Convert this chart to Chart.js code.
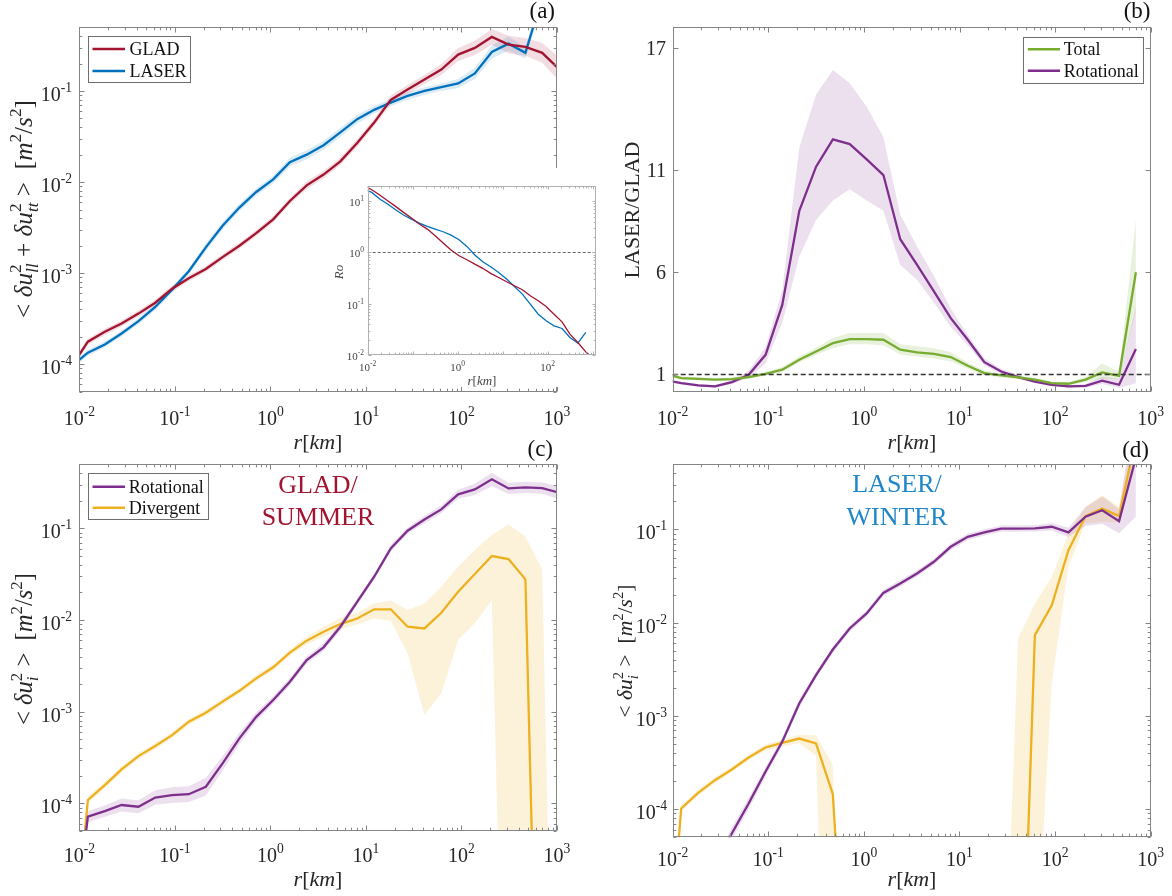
<!DOCTYPE html>
<html><head><meta charset="utf-8">
<script src="https://cdn.jsdelivr.net/npm/chart.js@4.4.1/dist/chart.umd.min.js"></script>
<style>
html,body{margin:0;padding:0;background:#fff;}
#wrap{position:relative;width:1172px;height:896px;overflow:hidden;background:#fff;}
canvas{position:absolute;left:0;top:0;}
</style></head><body><div id="wrap"></div>
<script>
// ---------------- DATA ----------------
const r_km = [0.0082, 0.0123, 0.0185, 0.0277, 0.0416, 0.0624, 0.0936, 0.140, 0.211, 0.316, 0.474, 0.711, 1.07, 1.60, 2.40, 3.60, 5.40, 8.10, 12.2, 18.2, 27.3, 41.0, 61.5, 92.3, 138, 208, 311, 467, 700, 1050];

// (a) structure functions
const a_glad = [9.3e-5, 1.77e-4, 2.27e-4, 2.80e-4, 3.6e-4, 4.74e-4, 6.75e-4, 8.8e-4, 1.11e-3, 1.50e-3, 2.0e-3, 2.75e-3, 3.9e-3, 6.2e-3, 9.2e-3, 1.21e-2, 1.69e-2, 2.69e-2, 4.5e-2, 7.98e-2, 0.104, 0.134, 0.172, 0.251, 0.297, 0.392, 0.323, 0.305, 0.262, 0.174];
const a_glad_spread = [1.08,1.08,1.08,1.08,1.08,1.08,1.08,1.08,1.08,1.08,1.08,1.08,1.08,1.08,1.1,1.1,1.1,1.1,1.1,1.12,1.12,1.12,1.15,1.18,1.2,1.22,1.25,1.25,1.28,1.35];
const a_laser = [9.4e-5, 1.34e-4, 1.65e-4, 2.18e-4, 2.97e-4, 4.26e-4, 6.6e-4, 1.05e-3, 1.92e-3, 3.31e-3, 5.25e-3, 7.78e-3, 1.07e-2, 1.65e-2, 2.0e-2, 2.54e-2, 3.51e-2, 4.91e-2, 6.21e-2, 7.46e-2, 8.82e-2, 0.100, 0.110, 0.121, 0.156, 0.268, 0.331, 0.262, 1.07, null];
const a_laser_spread = [1.08,1.08,1.08,1.08,1.08,1.08,1.08,1.08,1.1,1.1,1.1,1.1,1.1,1.12,1.12,1.12,1.12,1.12,1.1,1.1,1.1,1.1,1.1,1.12,1.15,1.18,1.2,1.15,1.2,null];

// inset Rossby number
const ins_glad = [20, 16.7, 13.2, 10.2, 7.9, 6.04, 4.68, 3.57, 2.85, 2.11, 1.52, 1.11, 0.86, 0.72, 0.59, 0.49, 0.39, 0.325, 0.268, 0.224, 0.187, 0.143, 0.114, 0.0883, 0.0625, 0.0443, 0.0255, 0.0175, 0.0115, 0.0083];
const ins_laser = [17.2, 14.8, 11.0, 8.78, 6.8, 5.36, 4.47, 3.74, 3.22, 2.85, 2.53, 2.18, 1.77, 1.31, 0.89, 0.66, 0.525, 0.407, 0.302, 0.217, 0.154, 0.098, 0.0625, 0.0464, 0.0371, 0.0329, 0.0219, 0.017, 0.0275, null];

// (b) ratios LASER/GLAD
const b_total = [1.0, 0.79, 0.75, 0.71, 0.74, 0.84, 1.0, 1.2, 1.69, 2.09, 2.5, 2.7, 2.7, 2.67, 2.18, 2.05, 1.98, 1.82, 1.39, 1.03, 0.92, 0.82, 0.71, 0.54, 0.51, 0.71, 1.07, 0.9, 5.98, null];
const b_total_hi = [1.1, 0.88, 0.83, 0.79, 0.82, 0.93, 1.1, 1.33, 1.85, 2.28, 2.75, 3.0, 3.0, 3.0, 2.45, 2.35, 2.25, 2.05, 1.55, 1.15, 1.02, 0.9, 0.78, 0.6, 0.58, 0.85, 1.5, 1.1, 8.55, null];
const b_total_lo = [0.9, 0.72, 0.68, 0.64, 0.67, 0.76, 0.9, 1.08, 1.55, 1.92, 2.27, 2.45, 2.45, 2.4, 1.95, 1.85, 1.75, 1.6, 1.25, 0.92, 0.82, 0.74, 0.64, 0.48, 0.45, 0.6, 0.75, 0.75, 4.1, null];
const b_rot = [0.69, 0.54, 0.43, 0.38, 0.59, 0.95, 1.93, 4.38, 9.0, 11.16, 12.5, 12.27, 11.52, 10.75, 7.6, 6.34, 5.04, 3.73, 2.67, 1.57, 1.11, 0.84, 0.62, 0.46, 0.38, 0.41, 0.66, 0.46, 2.21, null];
const b_rot_hi = [0.75, 0.6, 0.5, 0.45, 0.7, 1.15, 2.3, 5.1, 12.1, 14.7, 15.9, 15.25, 14.1, 12.6, 8.8, 7.24, 5.8, 4.2, 2.9, 1.75, 1.25, 0.95, 0.7, 0.55, 0.45, 0.5, 0.85, 0.75, 4.3, null];
const b_rot_lo = [0.63, 0.48, 0.38, 0.33, 0.5, 0.8, 1.5, 3.5, 6.75, 8.55, 9.5, 10.05, 9.5, 9.0, 6.34, 5.6, 4.5, 3.3, 2.4, 1.4, 1.0, 0.75, 0.55, 0.4, 0.33, 0.33, 0.5, 0.3, 0.54, null];
const b_y_ticks = [1, 6, 11, 17];

// (c) GLAD / summer decomposition
const c_rot = [2.3e-6, 7.16e-5, 8.25e-5, 9.6e-5, 9.2e-5, 1.16e-4, 1.23e-4, 1.26e-4, 1.52e-4, 2.73e-4, 5.12e-4, 8.8e-4, 1.34e-3, 2.12e-3, 3.66e-3, 5.04e-3, 8.46e-3, 1.58e-2, 2.97e-2, 6.05e-2, 9.44e-2, 0.125, 0.161, 0.235, 0.266, 0.343, 0.273, 0.28, 0.275, 0.245];
const c_rot_spread = [1.1, 1.15, 1.15, 1.18, 1.18, 1.2, 1.22, 1.22, 1.25, 1.2, 1.15, 1.12, 1.1, 1.1, 1.1, 1.1, 1.1, 1.08, 1.08, 1.08, 1.08, 1.1, 1.1, 1.12, 1.15, 1.18, 1.15, 1.15, 1.15, 1.18];
const c_div = [1.2e-6, 1.09e-4, 1.58e-4, 2.35e-4, 3.28e-4, 4.22e-4, 5.56e-4, 7.78e-4, 9.75e-4, 1.29e-3, 1.69e-3, 2.31e-3, 3.05e-3, 4.41e-3, 5.96e-3, 7.47e-3, 9.04e-3, 1.04e-2, 1.31e-2, 1.31e-2, 8.46e-3, 8.1e-3, 1.2e-2, 2.04e-2, 3.18e-2, 4.99e-2, 4.63e-2, 2.78e-2, 1.4e-9, null];
const c_div_hi = [1.2e-6, 1.2e-4, 1.72e-4, 2.55e-4, 3.55e-4, 4.55e-4, 6.0e-4, 8.4e-4, 1.05e-3, 1.39e-3, 1.82e-3, 2.5e-3, 3.3e-3, 4.8e-3, 6.6e-3, 8.4e-3, 1.05e-2, 1.2e-2, 1.52e-2, 1.63e-2, 1.29e-2, 1.52e-2, 2.31e-2, 3.82e-2, 5.81e-2, 8.46e-2, 0.111, 8.1e-2, 3.57e-2, 1e-10];
const c_div_lo = [1.2e-6, 1.0e-4, 1.46e-4, 2.17e-4, 3.03e-4, 3.9e-4, 5.15e-4, 7.2e-4, 9.0e-4, 1.19e-3, 1.57e-3, 2.14e-3, 2.82e-3, 4.05e-3, 5.4e-3, 6.6e-3, 7.9e-3, 9.0e-3, 1.04e-2, 9.8e-3, 4.33e-3, 9.2e-4, 1.58e-3, 6.05e-3, 9.2e-3, 1.63e-2, 1e-9, 1e-10, 1e-10, 1e-10];

// (d) LASER / winter decomposition
const d_rot = [1e-6, 5.9e-6, 1.26e-5, 2.6e-5, 5.49e-5, 1.15e-4, 2.52e-4, 5.28e-4, 1.36e-3, 2.74e-3, 5.16e-3, 8.68e-3, 1.26e-2, 2.09e-2, 2.64e-2, 3.38e-2, 4.5e-2, 6.52e-2, 8.34e-2, 9.29e-2, 0.102, 0.102, 0.103, 0.107, 9.29e-2, 0.137, 0.161, 0.123, 0.59, null];
const d_rot_spread = [1.1, 1.1, 1.1, 1.1, 1.15, 1.15, 1.12, 1.1, 1.1, 1.08, 1.08, 1.08, 1.08, 1.08, 1.08, 1.08, 1.08, 1.08, 1.08, 1.08, 1.08, 1.08, 1.08, 1.1, 1.12, 1.26, 1.4, 1.35, 4.3, null];
const d_div = [5.5e-7, 1.02e-4, 1.5e-4, 2.05e-4, 2.67e-4, 3.59e-4, 4.59e-4, 5.15e-4, 5.73e-4, 5.07e-4, 1.45e-4, 1.7e-7, 1e-9, 1e-9, 1e-9, 1e-9, 1e-9, 1e-9, 1e-9, 1e-9, 1e-9, 3.3e-8, 7.36e-3, 1.54e-2, 6.0e-2, 0.139, 0.168, 0.139, 0.96, null];
const d_div_hi = [5.5e-7, 1.1e-4, 1.62e-4, 2.2e-4, 2.85e-4, 3.85e-4, 4.95e-4, 5.6e-4, 6.3e-4, 6.2e-4, 2.96e-4, 3.5e-9, 1e-10, 1e-10, 1e-10, 1e-10, 1e-10, 1e-10, 1e-10, 1e-10, 6e-8, 6.78e-3, 1.61e-2, 3.1e-2, 9.06e-2, 0.175, 0.233, 0.175, 1.5, null];
const d_div_lo = [5.5e-7, 9.5e-5, 1.4e-4, 1.9e-4, 2.5e-4, 3.35e-4, 4.25e-4, 4.7e-4, 5.1e-4, 3.8e-4, 1e-9, 1e-12, 1e-12, 1e-12, 1e-12, 1e-12, 1e-12, 1e-12, 1e-12, 1e-12, 1e-12, 1e-12, 1.35e-6, 2.23e-3, 3.98e-2, 0.116, 0.121, 0.118, 0.6, null];

// tick label exponents
const x_exps = [-2, -1, 0, 1, 2, 3];
const y_exps = [-4, -3, -2, -1];
const ins_x_exps = [-2, 0, 2];
const ins_y_exps = [-2, -1, 0, 1];

// ---------------- STYLE ----------------
const W = 1172, H = 896;
const SERIF = '"Liberation Serif", "Times New Roman", serif';
const C_GLAD = '#A2142F', C_LASER = '#0072BD', C_TOT = '#77AC30', C_ROT = '#7E2F8E', C_DIV = '#EDB120';
const AX = '#858585', TXT = '#262626';

function pts(arr){ return r_km.map((x,i)=>({x:x, y:(arr[i]===undefined?null:arr[i])})); }
function mul(a,s){ return a.map((v,i)=> (v==null||s[i]==null)?null:v*s[i]); }
function div(a,s){ return a.map((v,i)=> (v==null||s[i]==null)?null:v/s[i]); }
function line(arr,color,w){ return {data:pts(arr), borderColor:color, borderWidth:w||2.3, pointRadius:0, fill:false, tension:0, order:0, spanGaps:false}; }
function band(hi,lo,color){ return [
  {data:pts(hi), borderWidth:0, borderColor:'rgba(0,0,0,0)', pointRadius:0, backgroundColor:color, fill:'+1', tension:0, order:5},
  {data:pts(lo), borderWidth:0, borderColor:'rgba(0,0,0,0)', pointRadius:0, backgroundColor:color, fill:false, tension:0, order:5}
];}
function font(s,it){ return (it?'italic ':'')+s+'px '+SERIF; }

function logTicks(min,max){
  const out=[];
  for(let d=Math.floor(Math.log10(min))-1; d<=Math.ceil(Math.log10(max)); d++){
    for(let m=1;m<=9;m++){ const v=m*Math.pow(10,d); if(v>=min*0.9999 && v<=max*1.0001) out.push({v:v, major:m===1}); }
  }
  return out;
}
function drawPow(ctx, exp, x, y, size, align, color){
  const es = size*0.68;
  ctx.font = font(size); const w1 = ctx.measureText('10').width;
  ctx.font = font(es); const w2 = ctx.measureText(String(exp)).width;
  const tot = w1+w2;
  let left = align==='center' ? x - tot/2 : (align==='right' ? x - tot : x);
  ctx.fillStyle = color; ctx.textAlign='left'; ctx.textBaseline='alphabetic';
  ctx.font = font(size); ctx.fillText('10', left, y);
  ctx.font = font(es); ctx.fillText(String(exp), left+w1, y - size*0.45);
}
// rich text: runs {t, it, sup, sub, st:{sup,sub}}
function runWidth(ctx, run, size){
  if(run.st){ ctx.font=font(size*0.68, true); return Math.max(ctx.measureText(run.st.sup).width, ctx.measureText(run.st.sub).width); }
  const s = (run.sup||run.sub)? size*0.68 : size;
  ctx.font = font(s, run.it); return ctx.measureText(run.t).width;
}
function richWidth(ctx, runs, size){ return runs.reduce((a,r)=>a+runWidth(ctx,r,size),0); }
function drawRich(ctx, runs, x, y, size, align, color){
  const tot = richWidth(ctx, runs, size);
  let cx = align==='center' ? x - tot/2 : (align==='right' ? x - tot : x);
  ctx.fillStyle = color; ctx.textAlign='left'; ctx.textBaseline='alphabetic';
  for(const r of runs){
    const w = runWidth(ctx, r, size);
    if(r.st){
      ctx.font = font(size*0.68, false); ctx.fillText(r.st.sup, cx, y - size*0.42);
      ctx.font = font(size*0.68, true); ctx.fillText(r.st.sub, cx, y + size*0.24);
    } else if(r.sup){ ctx.font = font(size*0.68, r.it); ctx.fillText(r.t, cx, y - size*0.42); }
    else if(r.sub){ ctx.font = font(size*0.68, r.it); ctx.fillText(r.t, cx, y + size*0.24); }
    else { ctx.font = font(size, r.it); ctx.fillText(r.t, cx, y); }
    cx += w;
  }
}
function drawRotRich(ctx, runs, cx, cy, target, color){
  const w = richWidth(ctx, runs, 22);
  const size = 22*target/w;
  ctx.save(); ctx.translate(cx, cy); ctx.rotate(-Math.PI/2);
  drawRich(ctx, runs, 0, size*0.3, size, 'center', color);
  ctx.restore();
}
const RKM = [{t:'r',it:true},{t:'['},{t:'km',it:true},{t:']'}];

function drawFrame(ctx, chart, o){
  const ca = chart.chartArea, xs = chart.scales.x, ys = chart.scales.y;
  const L=Math.round(ca.left)+0.5, R=Math.round(ca.right)-0.5, T=Math.round(ca.top)+0.5, B=Math.round(ca.bottom)-0.5;
  ctx.save();
  ctx.strokeStyle = o.axColor||AX; ctx.lineWidth = 1;
  ctx.strokeRect(L, T, R-L, B-T);
  const MJ = o.major||5, MN = o.minor||2.8;
  ctx.beginPath();
  for(const t of logTicks(xs.min, xs.max)){
    const p = Math.round(xs.getPixelForValue(t.v))+0.5, len = t.major?MJ:MN;
    ctx.moveTo(p,B); ctx.lineTo(p,B-len); ctx.moveTo(p,T); ctx.lineTo(p,T+len);
  }
  const yt = o.linY ? o.linY.map(v=>({v:v,major:true})) : logTicks(ys.min, ys.max);
  for(const t of yt){
    const p = Math.round(ys.getPixelForValue(t.v))+0.5, len = t.major?MJ:MN;
    ctx.moveTo(L,p); ctx.lineTo(L+len,p); ctx.moveTo(R,p); ctx.lineTo(R-len,p);
  }
  ctx.stroke();
  ctx.restore();
}
function drawLegend(ctx, box, items){
  ctx.save();
  ctx.fillStyle='#fff'; ctx.fillRect(box.x, box.y, box.w, box.h);
  ctx.strokeStyle='#6e6e6e'; ctx.lineWidth=1; ctx.strokeRect(Math.round(box.x)+0.5, Math.round(box.y)+0.5, Math.round(box.w), Math.round(box.h));
  for(const it of items){
    ctx.strokeStyle=it.c; ctx.lineWidth=2.5; ctx.beginPath(); ctx.moveTo(box.lx0, it.y); ctx.lineTo(box.lx1, it.y); ctx.stroke();
    ctx.fillStyle='#111'; ctx.font=font(18); ctx.textAlign='left'; ctx.textBaseline='alphabetic';
    ctx.fillText(it.t, box.tx, it.y+6);
  }
  ctx.restore();
}

function makeChart(geom, datasets, yScale, drawFn, beforeFn){
  const cv = document.createElement('canvas'); cv.width=W; cv.height=H;
  cv.style.width=W+'px'; cv.style.height=H+'px';
  document.getElementById('wrap').appendChild(cv);
  return new Chart(cv.getContext('2d'), {
    type:'line',
    data:{datasets:datasets},
    options:{
      responsive:false, animation:false, devicePixelRatio:1,
      layout:{padding:{left:geom.l, top:geom.t, right:W-geom.r, bottom:H-geom.b}},
      plugins:{legend:{display:false}, tooltip:{enabled:false}, title:{display:false}},
      scales:{
        x:{type:'logarithmic', display:false, bounds:'data', min:geom.xmin, max:geom.xmax},
        y:Object.assign({display:false, bounds:'data'}, yScale)
      },
      elements:{line:{capBezierPoints:false}}
    },
    plugins:[{id:'deco',
      beforeDraw(chart){ if(beforeFn) beforeFn(chart.ctx, chart); },
      afterDraw(chart){ drawFn(chart.ctx, chart); }
    }]
  });
}

// ---------------- PANEL (a) ----------------
const gA = {l:79.3, r:557, t:27.3, b:391.7, xmin:0.01, xmax:1000};
makeChart(gA, [
  line(a_glad, C_GLAD), line(a_laser, C_LASER),
  ...band(mul(a_glad,a_glad_spread), div(a_glad,a_glad_spread), 'rgba(162,20,47,0.14)'),
  ...band(mul(a_laser,a_laser_spread), div(a_laser,a_laser_spread), 'rgba(0,114,189,0.14)')
], {type:'logarithmic', min:5e-5, max:0.5}, (ctx, ch)=>{
  drawFrame(ctx, ch, {});
  const xs=ch.scales.x, ys=ch.scales.y;
  x_exps.forEach(e=>drawPow(ctx, e, xs.getPixelForValue(Math.pow(10,e)), 425, 20, 'center', TXT));
  y_exps.forEach(e=>drawPow(ctx, e, 72, ys.getPixelForValue(Math.pow(10,e))+10, 20, 'right', TXT));
  drawRich(ctx, RKM, 318, 449, 22, 'center', TXT);
  drawRotRich(ctx, [{t:'< '},{t:'δu',it:true},{st:{sup:'2',sub:'ll'}},{t:' + '},{t:'δu',it:true},{st:{sup:'2',sub:'tt'}},{t:' >  ['},{t:'m',it:true},{t:'2',sup:true},{t:'/'},{t:'s',it:true},{t:'2',sup:true},{t:']'}], 24, 209, 218, TXT);
  ctx.fillStyle='#111'; ctx.font=font(23); ctx.textAlign='right'; ctx.fillText('(a)', 555, 18);
  drawLegend(ctx, {x:88.3, y:36, w:102, h:46, lx0:92.5, lx1:125, tx:129.5}, [{t:'GLAD', c:C_GLAD, y:49}, {t:'LASER', c:C_LASER, y:71}]);
});

// ---------------- INSET ----------------
const gI = {l:367.7, r:596.3, t:185.7, b:355, xmin:0.01, xmax:1200};
makeChart(gI, [
  line(ins_glad, C_GLAD, 1.3), line(ins_laser, C_LASER, 1.3)
], {type:'logarithmic', min:0.01, max:20}, (ctx, ch)=>{
  const xs=ch.scales.x, ys=ch.scales.y, ca=ch.chartArea;
  ctx.save(); ctx.strokeStyle='#555'; ctx.lineWidth=0.9; ctx.setLineDash([3,2]);
  const p = Math.round(ys.getPixelForValue(1))+0.5;
  ctx.beginPath(); ctx.moveTo(ca.left,p); ctx.lineTo(ca.right,p); ctx.stroke(); ctx.restore();
  drawFrame(ctx, ch, {axColor:'#b0b0b0', major:3, minor:1.8});
  ins_x_exps.forEach(e=>drawPow(ctx, e, xs.getPixelForValue(Math.pow(10,e)), 371, 11, 'center', '#444'));
  ins_y_exps.forEach(e=>drawPow(ctx, e, 364, ys.getPixelForValue(Math.pow(10,e))+5, 11, 'right', '#444'));
  drawRich(ctx, RKM, 482, 385, 13, 'center', '#444');
  ctx.save(); ctx.translate(343, 272); ctx.rotate(-Math.PI/2); ctx.fillStyle='#444'; ctx.font=font(13,true); ctx.textAlign='center'; ctx.fillText('Ro',0,0); ctx.restore();
}, (ctx)=>{
  ctx.fillStyle='#fff'; ctx.fillRect(340, 168, 262, 219);
});

// ---------------- PANEL (b) ----------------
const gB = {l:672.7, r:1150.7, t:27.3, b:391.7, xmin:0.01, xmax:1000};
makeChart(gB, [
  line(b_total, C_TOT), line(b_rot, C_ROT),
  ...band(b_total_hi, b_total_lo, 'rgba(119,172,48,0.17)'),
  ...band(b_rot_hi, b_rot_lo, 'rgba(126,47,142,0.15)')
], {type:'linear', min:0.12, max:18}, (ctx, ch)=>{
  const xs=ch.scales.x, ys=ch.scales.y, ca=ch.chartArea;
  ctx.save(); ctx.strokeStyle='#333'; ctx.lineWidth=1.3; ctx.setLineDash([5,3]);
  const p = Math.round(ys.getPixelForValue(1))+0.5;
  ctx.beginPath(); ctx.moveTo(ca.left,p); ctx.lineTo(ca.right,p); ctx.stroke(); ctx.restore();
  drawFrame(ctx, ch, {linY:b_y_ticks});
  x_exps.forEach(e=>drawPow(ctx, e, xs.getPixelForValue(Math.pow(10,e)), 425, 20, 'center', TXT));
  ctx.fillStyle=TXT; ctx.font=font(20); ctx.textAlign='right'; ctx.textBaseline='alphabetic';
  b_y_ticks.forEach(v=>ctx.fillText(String(v), 666, ys.getPixelForValue(v)+7));
  drawRich(ctx, RKM, 912, 449, 22, 'center', TXT);
  ctx.save(); ctx.translate(632, 210); ctx.rotate(-Math.PI/2); ctx.fillStyle=TXT; ctx.font=font(22); ctx.textAlign='center'; ctx.fillText('LASER/GLAD',0,7); ctx.restore();
  ctx.fillStyle='#111'; ctx.font=font(23); ctx.textAlign='right'; ctx.fillText('(b)', 1150.5, 18);
  drawLegend(ctx, {x:1023, y:36.5, w:119.5, h:46, lx0:1027.8, lx1:1060, tx:1063.7}, [{t:'Total', c:C_TOT, y:49.3}, {t:'Rotational', c:C_ROT, y:70.7}]);
});

// ---------------- PANEL (c) ----------------
const gC = {l:79.3, r:557, t:464.3, b:831, xmin:0.01, xmax:1000};
makeChart(gC, [
  line(c_rot, C_ROT), line(c_div, C_DIV),
  ...band(mul(c_rot,c_rot_spread), div(c_rot,c_rot_spread), 'rgba(126,47,142,0.15)'),
  ...band(c_div_hi, c_div_lo, 'rgba(237,177,32,0.17)')
], {type:'logarithmic', min:5e-5, max:0.5}, (ctx, ch)=>{
  drawFrame(ctx, ch, {});
  const xs=ch.scales.x, ys=ch.scales.y;
  x_exps.forEach(e=>drawPow(ctx, e, xs.getPixelForValue(Math.pow(10,e)), 862, 20, 'center', TXT));
  y_exps.forEach(e=>drawPow(ctx, e, 72, ys.getPixelForValue(Math.pow(10,e))+10, 20, 'right', TXT));
  drawRich(ctx, RKM, 318, 886, 22, 'center', TXT);
  drawRotRich(ctx, [{t:'< '},{t:'δu',it:true},{st:{sup:'2',sub:'i'}},{t:' >  ['},{t:'m',it:true},{t:'2',sup:true},{t:'/'},{t:'s',it:true},{t:'2',sup:true},{t:']'}], 25, 649, 152, TXT);
  ctx.fillStyle='#111'; ctx.font=font(23); ctx.textAlign='right'; ctx.fillText('(c)', 553, 456);
  ctx.fillStyle=C_GLAD; ctx.font=font(26); ctx.textAlign='center';
  ctx.fillText('GLAD/', 318, 493); ctx.fillText('SUMMER', 318, 525);
  drawLegend(ctx, {x:88, y:473.3, w:120, h:45.7, lx0:92.5, lx1:125, tx:128.7}, [{t:'Rotational', c:C_ROT, y:486.7}, {t:'Divergent', c:C_DIV, y:507.7}]);
});

// ---------------- PANEL (d) ----------------
const gD = {l:672.6, r:1150.7, t:464.3, b:837.3, xmin:0.01, xmax:1000};
makeChart(gD, [
  line(d_rot, C_ROT), line(d_div, C_DIV),
  ...band(mul(d_rot,d_rot_spread), div(d_rot,d_rot_spread), 'rgba(126,47,142,0.15)'),
  ...band(d_div_hi, d_div_lo, 'rgba(237,177,32,0.17)')
], {type:'logarithmic', min:5e-5, max:0.5}, (ctx, ch)=>{
  drawFrame(ctx, ch, {});
  const xs=ch.scales.x, ys=ch.scales.y;
  x_exps.forEach(e=>drawPow(ctx, e, xs.getPixelForValue(Math.pow(10,e)), 866, 20, 'center', TXT));
  y_exps.forEach(e=>drawPow(ctx, e, 667, ys.getPixelForValue(Math.pow(10,e))+10, 20, 'right', TXT));
  drawRich(ctx, RKM, 912, 886, 22, 'center', TXT);
  drawRotRich(ctx, [{t:'< '},{t:'δu',it:true},{st:{sup:'2',sub:'i'}},{t:' >  ['},{t:'m',it:true},{t:'2',sup:true},{t:'/'},{t:'s',it:true},{t:'2',sup:true},{t:']'}], 626, 651, 133, TXT);
  ctx.fillStyle='#111'; ctx.font=font(23); ctx.textAlign='right'; ctx.fillText('(d)', 1149, 457);
  ctx.fillStyle='#1f86c9'; ctx.font=font(26); ctx.textAlign='center';
  ctx.fillText('LASER/', 897, 492); ctx.fillText('WINTER', 897, 525);
});
</script>
</body></html>
